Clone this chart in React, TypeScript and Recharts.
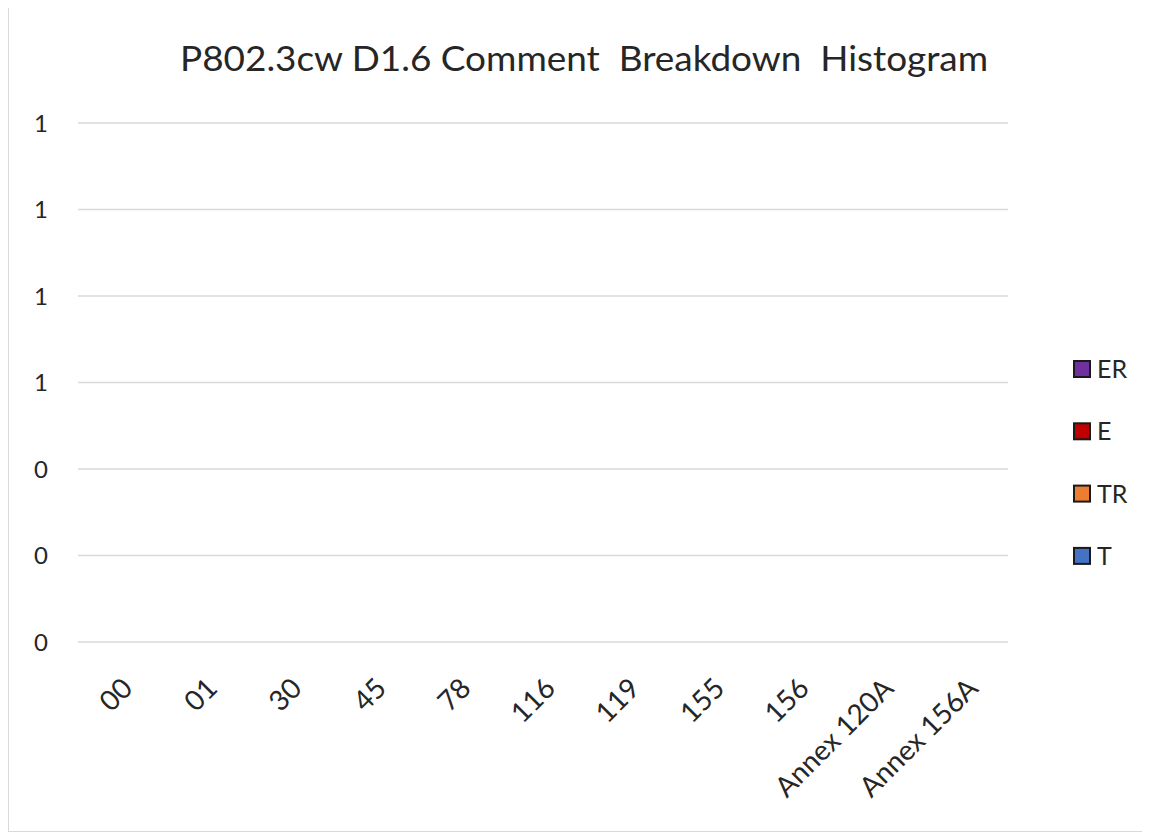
import React from "react";
import { BarChart, Bar, XAxis, YAxis, CartesianGrid } from "recharts";

const categories = ["00", "01", "30", "45", "78", "116", "119", "155", "156", "Annex 120A", "Annex 156A"];
const seriesT = [0, 0, 0, 0, 0, 0, 0, 0, 0, 0, 0];
const seriesTR = [0, 0, 0, 0, 0, 0, 0, 0, 0, 0, 0];
const seriesE = [0, 0, 0, 0, 0, 0, 0, 0, 0, 0, 0];
const seriesER = [0, 0, 0, 0, 0, 0, 0, 0, 0, 0, 0];
const yTicks = [0, 0.2, 0.4, 0.6, 0.8, 1.0, 1.2];

const series = [
  { key: "T", color: "#4472C4" },
  { key: "TR", color: "#ED7D31" },
  { key: "E", color: "#C00000" },
  { key: "ER", color: "#7030A0" },
];

const data = categories.map((c, i) => ({
  name: c,
  T: seriesT[i],
  TR: seriesTR[i],
  E: seriesE[i],
  ER: seriesER[i],
}));

const FONT = "Lato, 'Open Sans', sans-serif";
const TEXT = "#262626";

const W = 1140;
const H = 828;

export default function App() {
  const legendItems = [...series].reverse();
  return (
    <div
      style={{
        position: "relative",
        width: W,
        height: H,
        border: "1px solid #d9d9d9",
        marginTop: -6,
        background: "#fff",
        fontFamily: FONT,
      }}
    >
      <BarChart
        width={W}
        height={H}
        data={data}
        margin={{ top: 120, right: 141, bottom: 9, left: 9 }}
      >
        <CartesianGrid vertical={false} stroke="#d9d9d9" strokeWidth={1.5} />
        <XAxis
          dataKey="name"
          axisLine={false}
          tickLine={false}
          interval={0}
          height={180}
          tickMargin={28}
          tick={{ angle: -45, textAnchor: "end", fontSize: 28, fill: TEXT, fontFamily: FONT }}
        />
        <YAxis
          width={60}
          domain={[0, 1.2]}
          ticks={yTicks}
          axisLine={false}
          tickLine={false}
          tickMargin={24}
          tickFormatter={(v: number) => String(Math.round(v))}
          tick={{ fontSize: 24, fill: TEXT, fontFamily: FONT }}
        />
        {series.map((s) => (
          <Bar key={s.key} dataKey={s.key} stackId="a" fill={s.color} isAnimationActive={false} />
        ))}
      </BarChart>
      <svg
        width={W}
        height={H}
        style={{ position: "absolute", left: 0, top: 0, pointerEvents: "none" }}
      >
        <text
          x={575}
          y={68}
          textAnchor="middle"
          fontSize={34}
          fill={TEXT}
          fontFamily={FONT}
          textLength={808}
          lengthAdjust="spacingAndGlyphs"
          style={{ whiteSpace: "pre" }}
        >
          P802.3cw D1.6 Comment  Breakdown  Histogram
        </text>
        {legendItems.map((s, i) => {
          const cy = 366 + i * 62.3;
          return (
            <g key={s.key}>
              <rect x={1065} y={cy - 8} width={16} height={16} fill={s.color} stroke="#1a1a1a" strokeWidth={2} />
              <text x={1088} y={cy + 9} fontSize={25} fill={TEXT} fontFamily={FONT}>
                {s.key}
              </text>
            </g>
          );
        })}
      </svg>
    </div>
  );
}
